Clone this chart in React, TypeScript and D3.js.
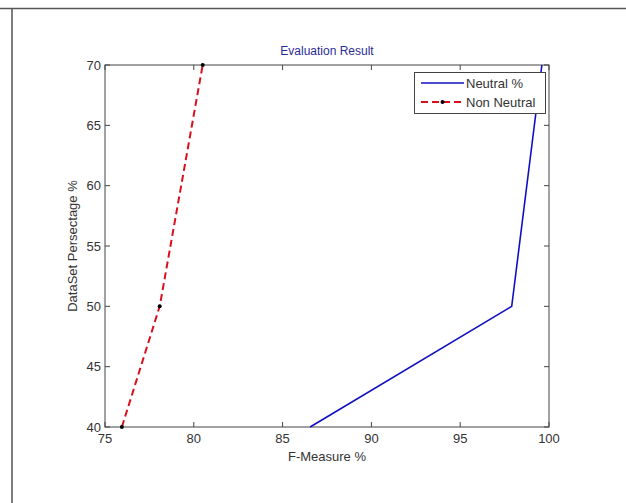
import React, { useEffect, useRef } from 'react';
import * as d3 from 'd3';

const width = 626;
const height = 503;
const margin = { top: 65, right: 77, bottom: 76, left: 105 };

const dataset = [40, 50, 70];
const neutral = [86.55, 97.9, 99.6];
const nonNeutral = [75.95, 78.08, 80.5];
const xTicks = [75, 80, 85, 90, 95, 100];
const yTicks = [40, 45, 50, 55, 60, 65, 70];

const FONT = '"Liberation Sans", Arial, sans-serif';
const AXIS = '#444';

const App = () => {
  const ref = useRef<SVGSVGElement>(null);

  useEffect(() => {
    const svg = d3.select(ref.current);
    svg.selectAll('*').remove();

    const x = d3.scaleLinear().domain([75, 100]).range([margin.left, width - margin.right]);
    const y = d3.scaleLinear().domain([40, 70]).range([height - margin.bottom, margin.top]);

    // outer frame (only top and left edges visible)
    svg.append('line').attr('x1', 0).attr('x2', width).attr('y1', 8.5).attr('y2', 8.5)
      .attr('stroke', '#555').attr('stroke-width', 1.5);
    svg.append('line').attr('x1', 12).attr('x2', 12).attr('y1', 8).attr('y2', height)
      .attr('stroke', '#555').attr('stroke-width', 1.5);

    // axes box
    const x0 = x.range()[0], x1 = x.range()[1];
    const y0 = y.range()[0], y1 = y.range()[1];
    svg.append('rect').attr('x', x0).attr('y', y1).attr('width', x1 - x0).attr('height', y0 - y1)
      .attr('fill', 'none').attr('stroke', AXIS).attr('stroke-width', 1);

    const tl = 5;
    const g = svg.append('g').attr('stroke', AXIS).attr('stroke-width', 1);
    xTicks.forEach(t => {
      g.append('line').attr('x1', x(t)).attr('x2', x(t)).attr('y1', y0).attr('y2', y0 - tl);
      g.append('line').attr('x1', x(t)).attr('x2', x(t)).attr('y1', y1).attr('y2', y1 + tl);
    });
    yTicks.forEach(t => {
      g.append('line').attr('x1', x0).attr('x2', x0 + tl).attr('y1', y(t)).attr('y2', y(t));
      g.append('line').attr('x1', x1).attr('x2', x1 - tl).attr('y1', y(t)).attr('y2', y(t));
    });

    svg.append('g').selectAll('text').data(xTicks).enter().append('text')
      .attr('x', d => x(d)).attr('y', y0 + 16)
      .attr('text-anchor', 'middle').attr('font-family', FONT).attr('font-size', 13)
      .attr('fill', '#333').text(d => `${d}`);

    svg.append('g').selectAll('text').data(yTicks).enter().append('text')
      .attr('x', x0 - 4).attr('y', d => y(d) + 4.5)
      .attr('text-anchor', 'end').attr('font-family', FONT).attr('font-size', 13)
      .attr('fill', '#333').text(d => `${d}`);

    // labels
    svg.append('text').attr('x', (x0 + x1) / 2).attr('y', 461)
      .attr('text-anchor', 'middle').attr('font-family', FONT).attr('font-size', 13)
      .attr('fill', '#333').text('F-Measure %');
    svg.append('text').attr('transform', `translate(77, ${(y0 + y1) / 2}) rotate(-90)`)
      .attr('text-anchor', 'middle').attr('font-family', FONT).attr('font-size', 13)
      .attr('fill', '#333').text('DataSet Persectage %');
    svg.append('text').attr('x', (x0 + x1) / 2).attr('y', 55)
      .attr('text-anchor', 'middle').attr('font-family', FONT).attr('font-size', 12)
      .attr('fill', '#2b2b96').text('Evaluation Result');

    // series
    const line = d3.line<number>().x(d => d);
    const neutralPts = dataset.map((d, i) => [x(neutral[i]), y(d)] as [number, number]);
    const nonPts = dataset.map((d, i) => [x(nonNeutral[i]), y(d)] as [number, number]);
    const path = d3.line();

    svg.append('path').attr('d', path(neutralPts)).attr('fill', 'none')
      .attr('stroke', '#1010c0').attr('stroke-width', 1.6);
    svg.append('path').attr('d', path(nonPts)).attr('fill', 'none')
      .attr('stroke', '#d8101c').attr('stroke-width', 2).attr('stroke-dasharray', '7,4');
    svg.append('g').selectAll('circle').data(nonPts).enter().append('circle')
      .attr('cx', d => d[0]).attr('cy', d => d[1]).attr('r', 2).attr('fill', '#000');

    // legend
    const lg = svg.append('g');
    lg.append('rect').attr('x', 414.5).attr('y', 72.5).attr('width', 131).attr('height', 41)
      .attr('fill', '#fff').attr('stroke', AXIS).attr('stroke-width', 1);
    lg.append('line').attr('x1', 421).attr('x2', 464).attr('y1', 83).attr('y2', 83)
      .attr('stroke', '#1010c0').attr('stroke-width', 1.6);
    lg.append('line').attr('x1', 421).attr('x2', 464).attr('y1', 102).attr('y2', 102)
      .attr('stroke', '#d8101c').attr('stroke-width', 2).attr('stroke-dasharray', '7,4');
    lg.append('circle').attr('cx', 442.5).attr('cy', 102).attr('r', 2).attr('fill', '#000');
    lg.append('text').attr('x', 466).attr('y', 88).attr('font-family', FONT).attr('font-size', 13)
      .attr('fill', '#333').text('Neutral %');
    lg.append('text').attr('x', 466).attr('y', 107).attr('font-family', FONT).attr('font-size', 13)
      .attr('fill', '#333').text('Non Neutral');
    void line;
  }, []);

  return (
    <div style={{ position: 'absolute', left: 0, top: 0 }}>
      <svg ref={ref} width={width} height={height} style={{ display: 'block', background: '#fff' }} />
    </div>
  );
};

export default App;
